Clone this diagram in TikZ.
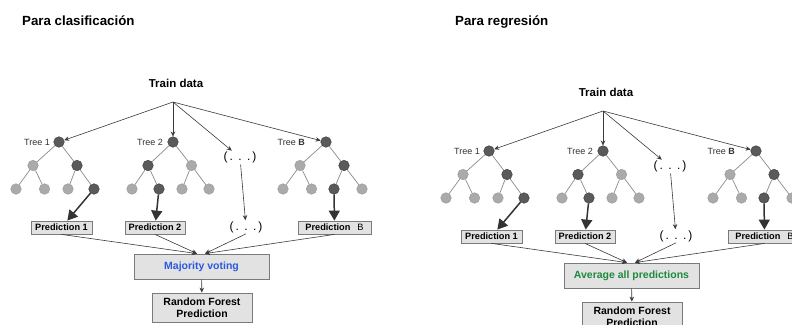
\documentclass[tikz,border=0pt]{standalone}
\usepackage{fontspec}
\setmainfont{Liberation Sans}
\usetikzlibrary{arrows.meta}
\definecolor{darknode}{HTML}{5A5A5A}
\definecolor{darknodeb}{HTML}{3C3C3C}
\definecolor{lightnode}{HTML}{AAAAAA}
\definecolor{lightnodeb}{HTML}{999999}
\definecolor{edgegray}{HTML}{8A8A8A}
\definecolor{arrowgray}{HTML}{3A3A3A}
\definecolor{bigarrowc}{HTML}{333333}
\definecolor{boxborder}{HTML}{7A7A7A}
\definecolor{boxfill}{HTML}{E2E2E2}
\definecolor{votingblue}{HTML}{2A58E0}
\definecolor{avggreen}{HTML}{1E8A3C}
\tikzset{
  dn/.style={circle, fill=darknode, draw=darknodeb, line width=0.4pt, minimum size=10.6pt, inner sep=0pt},
  ln/.style={circle, fill=lightnode, draw=lightnodeb, line width=0.4pt, minimum size=10.6pt, inner sep=0pt},
  tedge/.style={draw=edgegray, line width=0.7pt},
  tarrow/.style={draw=arrowgray, line width=0.6pt, -{Stealth[length=5pt,width=4.5pt]}},
  bigarrow/.style={draw=bigarrowc, line width=1.5pt, -{Triangle[length=10pt,width=11pt]}},
  predbox/.style={draw=boxborder, fill=boxfill, line width=0.8pt, font=\bfseries\fontsize{9.2}{10}\selectfont, minimum height=13pt, inner sep=0pt},
  bigbox/.style={draw=boxborder, fill=boxfill, line width=0.8pt, font=\bfseries\fontsize{10.5}{12.5}\selectfont, align=center, inner sep=0pt},
  treelab/.style={font=\fontsize{9}{10}\selectfont, text=black!80, anchor=east, inner sep=0pt},
  dotslab/.style={font=\fontsize{12}{13}\selectfont, inner sep=1pt},
  titlelab/.style={font=\bfseries\fontsize{13.3}{15}\selectfont, anchor=base west, inner sep=0pt},
}
\newcommand\drawpanel[4]{%
\begin{scope}[shift={#2}]
  \node[font=\bfseries\fontsize{11.5}{13}\selectfont] (#1train) at (176,83) {Train data};
  \coordinate (#1o) at (173,102);
  % tree 1
  \node[dn] (#1ra) at (59,142) {};
  \node[ln] (#1a1) at (33,165.5) {};
  \node[dn] (#1a2) at (77,165.5) {};
  \node[ln] (#1a11) at (16,189) {};
  \node[ln] (#1a12) at (44.5,189) {};
  \node[ln] (#1a21) at (68,189) {};
  \node[dn] (#1a22) at (94,189) {};
  \node[treelab] (#1labA) at (50,142) {Tree 1};
  % tree 2
  \node[dn] (#1rb) at (173,142) {};
  \node[dn] (#1b1) at (148,165.5) {};
  \node[ln] (#1b2) at (191.5,165.5) {};
  \node[ln] (#1b11) at (132,189) {};
  \node[dn] (#1b12) at (159,189) {};
  \node[ln] (#1b21) at (182,189) {};
  \node[ln] (#1b22) at (209,189) {};
  \node[treelab] (#1labB) at (163,142) {Tree 2};
  % tree B
  \node[dn] (#1rc) at (326,142) {};
  \node[ln] (#1c1) at (300,165.5) {};
  \node[dn] (#1c2) at (344,165.5) {};
  \node[ln] (#1c11) at (283,189) {};
  \node[ln] (#1c12) at (311.5,189) {};
  \node[dn] (#1c21) at (334,189) {};
  \node[ln] (#1c22) at (362,189) {};
  \node[treelab] (#1labC) at (305,142) {Tree \textbf{B}};
  % dots
  \node[dotslab] (#1d1) at (240,157.5) {(\,.\;\,.\;\,.\,)};
  \node[dotslab] (#1d2) at (246,227) {(\,.\;\,.\;\,.\,)};
  % tree edges
  \foreach \p/\c in {ra/a1,ra/a2,a1/a11,a1/a12,a2/a21,a2/a22,
                     rb/b1,rb/b2,b1/b11,b1/b12,b2/b21,b2/b22,
                     rc/c1,rc/c2,c1/c11,c1/c12,c2/c21,c2/c22}
    \draw[tedge] (#1\p) -- (#1\c);
  % arrows from train data
  \draw[tarrow] (#1o) -- (#1ra);
  \draw[tarrow] (#1o) -- (#1rb);
  \draw[tarrow] (#1o) -- (#1d1);
  \draw[tarrow] (#1o) -- (#1rc);
  % predictions
  \node[predbox, minimum width=61pt] (#1p1) at (61.5,227.5) {Prediction 1};
  \node[predbox, minimum width=60pt] (#1p2) at (155,227.5) {Prediction 2};
  \node[predbox, minimum width=73pt] (#1pB) at (334.5,227.5) {Prediction\hspace{7pt}{\mdseries B}};
  \draw[bigarrow] (#1a22) -- (#1p1);
  \draw[bigarrow] (#1b12) -- (#1p2);
  \draw[bigarrow] (#1c21) -- (#1pB);
  \draw[tarrow] (#1d1) -- (#1d2);
  % aggregation
  \node[bigbox, minimum width=135pt, minimum height=25pt] (#1agg) at (201.5,266.5) {\textcolor{#4}{#3}};
  \node[bigbox, minimum width=100pt, minimum height=29pt] (#1rf) at (202,307.5) {Random Forest\\Prediction};
  \draw[tarrow] (#1p1.south) -- ([xshift=-4.5pt]#1agg.north);
  \draw[tarrow] (#1p2.south) -- ([xshift=-4.5pt]#1agg.north);
  \draw[tarrow] (#1d2.south) -- ([xshift=3.5pt]#1agg.north);
  \draw[tarrow] (#1pB.south) -- ([xshift=3.5pt]#1agg.north);
  \draw[tarrow] (#1agg) -- (#1rf);
\end{scope}}
\begin{document}
\begin{tikzpicture}[x=1pt, y=-1pt]
  \useasboundingbox (0,0) rectangle (792,324);
  \clip (0,0) rectangle (792,324);
  \fill[white] (0,0) rectangle (792,324);
  \node[titlelab] (titleL) at (22,25) {Para clasificación};
  \node[titlelab] (titleR) at (455,25) {Para regresión};
  \drawpanel{L}{(0,0)}{Majority voting}{votingblue}
  \drawpanel{R}{(430,9)}{Average all predictions}{avggreen}
\end{tikzpicture}
\end{document}
